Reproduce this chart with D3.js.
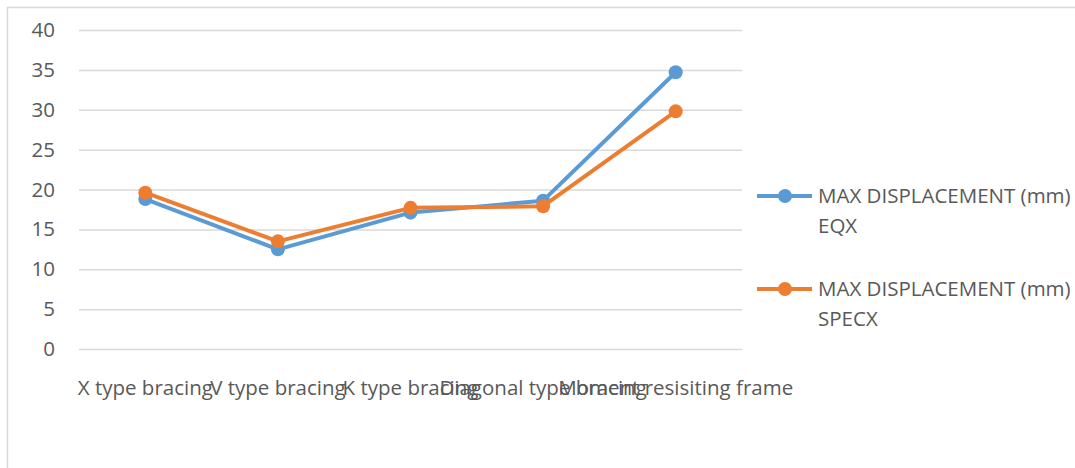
<!DOCTYPE html>
<html>
<head>
<meta charset="utf-8">
<script src="https://cdn.jsdelivr.net/npm/d3@7"></script>
<style>
  html, body { margin: 0; padding: 0; background: #fff; }
  svg { display: block; }
  text { font-family: "Open Sans", "Liberation Sans", sans-serif; fill: #595959; }
</style>
</head>
<body>
<svg id="chart" width="1075" height="468"></svg>
<script>
const categories = ["X type bracing", "V type bracing", "K type bracing", "Diagonal type bracing", "Moment resisiting frame"];
const seriesNames = ["MAX DISPLACEMENT (mm) EQX", "MAX DISPLACEMENT (mm) SPECX"];
const legendLine1 = ["MAX DISPLACEMENT (mm)", "MAX DISPLACEMENT (mm)"];
const legendLine2 = ["EQX", "SPECX"];
const eqx = [18.8, 12.5, 17.1, 18.6, 34.7];
const specx = [19.6, 13.5, 17.7, 17.9, 29.8];
const yTicks = [0, 5, 10, 15, 20, 25, 30, 35, 40];
const colors = ["#5B9BD5", "#ED7D31"];

const svg = d3.select("#chart");
const fontSize = 20.5;

// chart area border
svg.append("rect")
  .attr("x", 7.5).attr("y", 7.5)
  .attr("width", 1100).attr("height", 500)
  .attr("fill", "none").attr("stroke", "#d9d9d9").attr("stroke-width", 1.5);

const plot = { left: 79, right: 742, top: 30, bottom: 349 };

const x = d3.scaleBand().domain(categories).range([plot.left, plot.right]);
const y = d3.scaleLinear().domain([0, 40]).range([plot.bottom, plot.top]);

// gridlines + y labels
const yAxis = d3.axisLeft(y).tickValues(yTicks).tickSize(-(plot.right - plot.left)).tickPadding(24);
const gy = svg.append("g").attr("transform", `translate(${plot.left},0)`).call(yAxis);
gy.select(".domain").remove();
gy.selectAll(".tick line").attr("stroke", "#d9d9d9").attr("stroke-width", 1.5);
gy.selectAll(".tick text").style("font-size", fontSize + "px").attr("fill", "#595959")
  .attr("font-family", "Open Sans");

// x axis labels
const xAxis = d3.axisBottom(x).tickSize(0).tickPadding(31.5);
const gx = svg.append("g").attr("transform", `translate(0,${plot.bottom})`).call(xAxis);
gx.select(".domain").remove();
gx.selectAll(".tick text").style("font-size", fontSize + "px").attr("fill", "#595959")
  .attr("font-family", "Open Sans");

const series = [eqx, specx];
const line = d3.line().x((d, i) => x(categories[i]) + x.bandwidth() / 2).y(d => y(d));

series.forEach((vals, si) => {
  const g = svg.append("g");
  g.append("path").datum(vals).attr("d", line)
    .attr("fill", "none").attr("stroke", colors[si]).attr("stroke-width", 4)
    .attr("stroke-linejoin", "round").attr("stroke-linecap", "round");
  g.selectAll("circle").data(vals).join("circle")
    .attr("cx", (d, i) => x(categories[i]) + x.bandwidth() / 2)
    .attr("cy", d => y(d))
    .attr("r", 7).attr("fill", colors[si]);
});

// legend
const legendY = [196, 289];
seriesNames.forEach((name, si) => {
  const g = svg.append("g").attr("transform", `translate(757,${legendY[si]})`);
  g.append("line").attr("x1", 0).attr("x2", 55).attr("y1", 0).attr("y2", 0)
    .attr("stroke", colors[si]).attr("stroke-width", 4);
  g.append("circle").attr("cx", 28).attr("cy", 0).attr("r", 7).attr("fill", colors[si]);
  const t = g.append("text").attr("x", 61).attr("y", 7).style("font-size", fontSize + "px");
  t.append("tspan").attr("x", 61).text(legendLine1[si]);
  t.append("tspan").attr("x", 61).attr("dy", 30).text(legendLine2[si]);
});
</script>
</body>
</html>
